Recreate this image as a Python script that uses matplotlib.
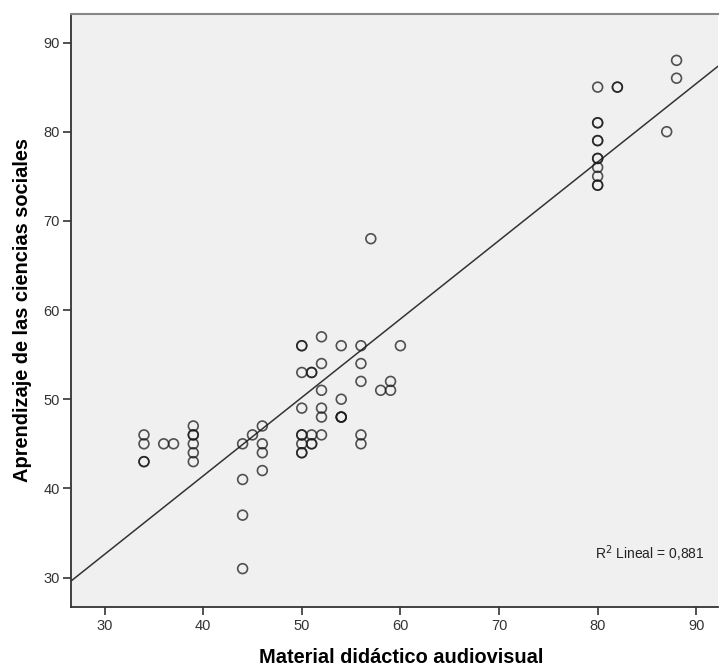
import numpy as np
import matplotlib
matplotlib.use('Agg')
import matplotlib.pyplot as plt

plt.rcParams['font.family'] = ['Liberation Sans', 'DejaVu Sans']

# values (duplicates repeated)
material = [34, 34, 34, 34, 36, 37,
            39, 39, 39, 39, 39, 39,
            44, 44, 44, 44, 45, 46, 46, 46, 46,
            50, 50, 50, 50, 50, 50, 50, 50, 50,
            51, 51, 51, 51, 51,
            52, 52, 52, 52, 52, 52,
            54, 54, 54, 54, 54,
            56, 56, 56, 56, 56,
            57, 58, 59, 59, 60,
            80, 80, 80, 80, 80, 80, 80, 80, 80, 80, 80,
            82, 82, 87, 88, 88]
aprendizaje = [46, 45, 43, 43, 45, 45,
               47, 46, 46, 45, 44, 43,
               45, 41, 37, 31, 46, 47, 45, 44, 42,
               56, 56, 53, 49, 46, 46, 45, 44, 44,
               53, 53, 46, 45, 45,
               57, 54, 51, 49, 48, 46,
               56, 50, 48, 48, 48,
               56, 54, 52, 46, 45,
               68, 51, 52, 51, 56,
               85, 81, 81, 79, 79, 77, 77, 76, 75, 74, 74,
               85, 85, 80, 88, 86]

# fit line as drawn in the reference
fit_slope = 0.88
fit_intercept = 6.2
r2_text = 'R$^2$ Lineal = 0,881'

x_ticks = [30, 40, 50, 60, 70, 80, 90]
y_ticks = [30, 40, 50, 60, 70, 80, 90]
x_lim = (26.6, 92.2)
y_lim = (26.7, 93.2)

fig = plt.figure(figsize=(7.2, 6.66), dpi=100)
ax = fig.add_axes([0.0986, 0.0886, 0.8986, 0.8904])
ax.set_facecolor('#f0f0f0')

ax.scatter(material, aprendizaje, s=50, facecolors='none',
           edgecolors='#1a1a1a', linewidths=1.2, alpha=0.75, zorder=3)

xs = np.array(x_lim)
ax.plot(xs, fit_intercept + fit_slope * xs, color='#333333', linewidth=1.1, zorder=2)

ax.text(90.8, 32.7, r2_text, ha='right', va='center', fontsize=10, color='#222222')

ax.set_xlim(*x_lim)
ax.set_ylim(*y_lim)
ax.set_xticks(x_ticks)
ax.set_yticks(y_ticks)
ax.tick_params(axis='both', direction='out', length=6, width=1.2, color='#333333',
               labelsize=10.5, labelcolor='#333333')
ax.tick_params(axis='y', pad=2)
ax.tick_params(axis='x', pad=3)

for side in ['left', 'bottom']:
    ax.spines[side].set_color('#333333')
    ax.spines[side].set_linewidth(1.3)
ax.spines['top'].set_color('#888888')
ax.spines['top'].set_linewidth(1.5)
ax.spines['right'].set_visible(False)

ax.set_xlabel('Material didáctico audiovisual', fontsize=14.4, fontweight='bold')
ax.set_ylabel('Aprendizaje de las ciencias sociales', fontsize=14.4, fontweight='bold')
ax.xaxis.set_label_coords(0.51, -0.086)
ax.xaxis.label.set_va('center')
ax.yaxis.set_label_coords(-0.0757, 0.5)
ax.yaxis.label.set_va('center')

plt.savefig('out.png', dpi=100)
